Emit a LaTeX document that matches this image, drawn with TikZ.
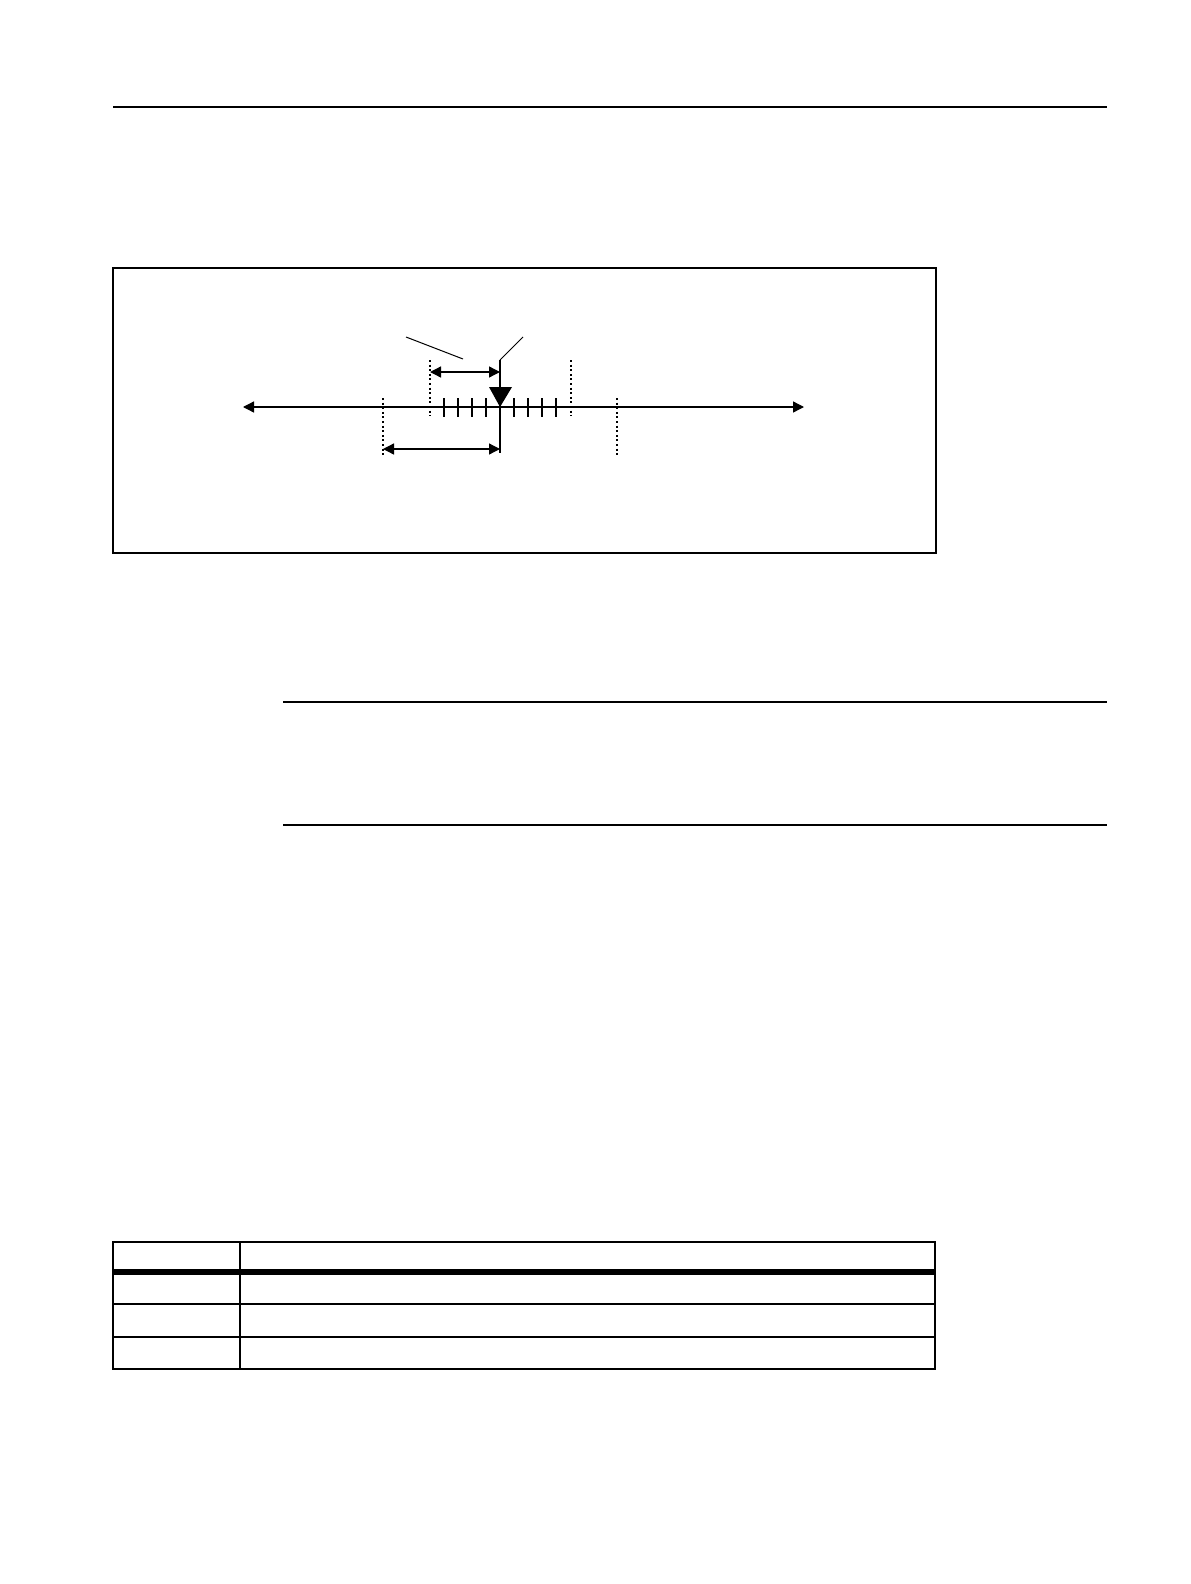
\documentclass[tikz,border=0pt]{standalone}
\usetikzlibrary{arrows.meta}
\begin{document}
\begin{tikzpicture}[x=0.5pt,y=-0.5pt,
  rule/.style={line width=0.75pt},
  axisline/.style={line width=0.65pt},
  dotline/.style={line width=0.6pt, dash pattern=on 1pt off 1.3pt},
  tick/.style={line width=0.6pt},
  dimarrow/.style={line width=0.65pt,{Triangle[length=5.5pt,width=5.5pt]}-{Triangle[length=5.5pt,width=5.5pt]}},
  leader/.style={line width=0.5pt}]
\useasboundingbox[fill=white] (0,0) rectangle (1190,1584);
% header rule
\draw[rule] (113,107) -- (1107,107);
% figure frame
\draw[rule] (113,268) rectangle (936,553);
% axis
\coordinate (aL) at (243,407);
\coordinate (aR) at (804,407);
\draw[axisline,{Triangle[length=5.5pt,width=5.5pt]}-{Triangle[length=5.5pt,width=5.5pt]}] (aL) -- (aR);
% dotted limits
\draw[dotline] (383,398) -- (383,457);
\draw[dotline] (430,360) -- (430,416);
\draw[dotline] (571,360) -- (571,416);
\draw[dotline] (617,398) -- (617,455);
% ticks
\foreach \x in {444,458,472,486,514,528,542,556}
  \draw[tick] (\x,398) -- (\x,417);
% center line and marker
\coordinate (cTop) at (500,360);
\coordinate (cBot) at (500,453);
\draw[axisline] (cTop) -- (cBot);
\fill (489,387) -- (512,387) -- (500,407) -- cycle;
% leaders
\coordinate (l2) at (523,337);
\draw[leader] (cTop) -- (l2);
\coordinate (l1a) at (406,337);
\coordinate (l1b) at (463,359);
\draw[leader] (l1a) -- (l1b);
% dimension arrows
\coordinate (u1) at (430,372);
\coordinate (u2) at (500,372);
\draw[dimarrow] (u1) -- (u2);
\coordinate (d1) at (383,449);
\coordinate (d2) at (500,449);
\draw[dimarrow] (d1) -- (d2);
% separator rules
\draw[rule] (283,702) -- (1107,702);
\draw[rule] (283,825) -- (1107,825);
% table
\draw[rule] (113,1242) rectangle (935,1369);
\draw[line width=2.6pt] (113,1272) -- (935,1272);
\draw[rule] (113,1304) -- (935,1304);
\draw[rule] (113,1337) -- (935,1337);
\draw[rule] (240,1242) -- (240,1369);
\end{tikzpicture}
\end{document}
